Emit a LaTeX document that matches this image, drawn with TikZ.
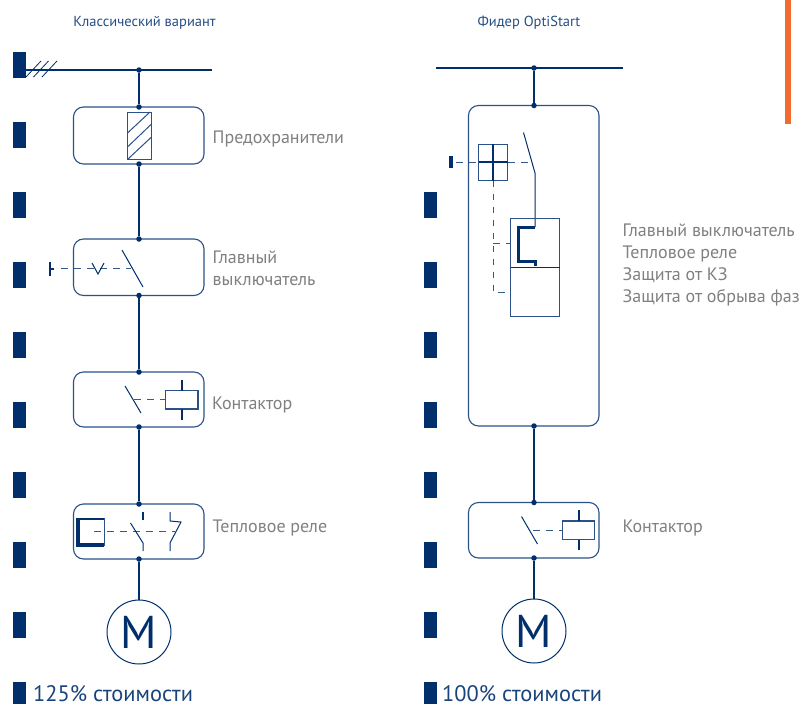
\documentclass[tikz,border=0pt]{standalone}
\usepackage{fontspec}
\setmainfont{PT Sans}
\definecolor{navy}{HTML}{002F6C}
\definecolor{boxblue}{HTML}{2A5288}
\definecolor{labelgray}{HTML}{808080}
\definecolor{barorange}{HTML}{F26A2E}

\begin{document}
\begin{tikzpicture}
[x=1pt,y=-1pt,
  marker/.style={shape=rectangle,fill=navy,inner sep=0pt,minimum width=13pt,minimum height=26pt},%
  blockdecorate/.style={shape=rectangle,draw=boxblue,line width=1.1pt,rounded corners=10pt,inner sep=0pt},%
  dotdecorate/.style={shape=circle,fill=navy,inner sep=0pt,minimum size=5.5pt},%
  motordecorate/.style={shape=circle,draw=navy,line width=1pt,inner sep=0pt,minimum size=64pt,text=navy,font=\fontsize{46}{46}\selectfont},%
  wire/.style={draw=navy,line width=1.8pt},%
  thin wire/.style={draw=navy,line width=1pt},%
  thick wire/.style={draw=navy,line width=3pt},%
  frame/.style={draw=boxblue,line width=1pt},%
  link/.style={draw=navy!80!white,line width=1pt,dash pattern=on 6.5pt off 6.5pt},%
  label/.style={anchor=base west,inner sep=0pt,text=labelgray,font=\fontsize{18}{18}\selectfont},%
  heading/.style={anchor=base,inner sep=0pt,text=navy!85!white,font=\fontsize{14.5}{14.5}\selectfont},%
  price/.style={anchor=base west,inner sep=0pt,text=navy!90!white,font=\fontsize{22.4}{22.4}\selectfont}]
\useasboundingbox (0,0) rectangle (801,704);
%% side markers and orange bar
\foreach \y in {65,135,205,275,345,415,485,555,625,695}
{
  \node[marker] (markerA\y) at (19.5,\y) {};
}
\foreach \y in {205,275,345,415,485,555,625,695}
{
  \node[marker] (markerB\y) at (430.5,\y) {};
}
\fill[barorange] (785,0) rectangle (791,124);
%% headings
\node[heading] (headA) at (144.5,27) {Классический вариант};
\node[heading] (headB) at (529,27) {Фидер OptiStart};
\node[price] (priceA) at (33,701) {125\% стоимости};
\node[price] (priceB) at (442,701) {100\% стоимости};
%% blocks
\foreach \nodename/\x/\y/\w/\h in {fuse/138.75/135.5/130.5/57,
  breaker/138.75/267.25/130.5/56.5, contactA/138.75/399.5/130.5/55,
  relay/138.75/531.5/130.5/55, feeder/533.75/265.75/130.5/320.5,
  contactB/533.75/530.25/130.5/55.5}
{
  \node[blockdecorate,minimum width=\w pt,minimum height=\h pt] (\nodename) at (\x,\y) {};
}
\node[motordecorate] (motorA) at (139,632) {M};
\node[motordecorate] (motorB) at (534,631) {M};
%% buses
\coordinate (busAl) at (26,70);
\coordinate (busAr) at (212,70);
\coordinate (busBl) at (436,68);
\coordinate (busBr) at (623,68);
\draw[wire] (busAl) -- (busAr);
\draw[wire] (busBl) -- (busBr);
\foreach \nodename/\x/\y in {dotbusA/139/70, dotfuseT/139/107, dotfuseB/139/164,
  dotbreakT/139/239, dotbreakB/139/295.5, dotcontT/139/372, dotcontB/139/427,
  dotrelayT/139/504, dotrelayB/139/559, dotbusB/534/68, dotfeedT/534/105.5,
  dotfeedB/534/426, dotcbT/534/502.5, dotcbB/534/558}
{
  \node[dotdecorate] (\nodename) at (\x,\y) {};
}
%% connections
\foreach \startnode/\endnode in {dotbusA/dotfuseT, dotfuseB/dotbreakT,
  dotbreakB/dotcontT, dotcontB/dotrelayT, dotbusB/dotfeedT, dotfeedB/dotcbT}
{
  \draw[wire] (\startnode) -- (\endnode);
}
\draw[wire] (dotrelayB) -- (motorA.north);
\draw[wire] (dotcbB) -- (motorB.north);
%% bus ticks
\foreach \x in {26,33.5,42}
{
  \draw[navy,line width=0.8pt] (\x,77) -- ++(15,-16);
}
%% fuse
\draw[frame,fill=white] (127.5,112) rectangle (151.5,159);
\draw[frame] (127.5,133) -- (150,112) (127.5,147) -- (151.5,124) (128,159) -- (151.5,137);
%% main switch
\draw[navy,line width=2.4pt] (50,262) -- (50,276);
\draw[navy,line width=2pt] (50,268.5) -- (54,268.5);
\draw[link] (61,268.5) -- (131,268.5);
\draw[thin wire,fill=none] (92,263) -- (98,274) -- (104,263);
\draw[thin wire] (122,250) -- (143,287);
%% contactor, left
\draw[thin wire] (125,386) -- (141,413);
\draw[link] (134,399) -- (165,399);
\draw[frame,line width=1.2pt] (165.5,390.5) rectangle (198,409);
\draw[navy,line width=1.6pt] (182,380) -- (182,390.5) (182,409) -- (182,420);
%% thermal relay
\draw[navy,line width=1.8pt] (104,519) -- (78,519);
\draw[navy,line width=3.2pt] (78,518) -- (78,545) -- (104,545);
\draw[frame] (104,518) -- (104,546);
\draw[link] (94,531.5) -- (175,531.5);
\draw[navy,line width=1.8pt] (143,512) -- (143,520);
\draw[thin wire] (130.5,523) -- (143,543) -- (143,551);
\draw[thin wire] (170,512) -- (170,521) -- (181,522) -- (170,543) -- (170,551);
%% feeder switch
\draw[navy,line width=4pt] (451,156) -- (451,168);
\draw[link] (456,162) -- (532,162);
\draw[frame,fill=none] (478.5,144) rectangle (507.5,180.5);
\draw[navy,line width=1.8pt] (493,144) -- (493,180.5) (478.5,162) -- (507.5,162);
\draw[thin wire] (523.5,132.5) -- (535,173) -- (535,227);
\draw[frame] (510.75,218.75) rectangle (559.75,316.75);
\draw[navy,line width=1.6pt] (510.75,267.5) -- (559.75,267.5);
\draw[thick wire] (535,227) -- (518.5,227) -- (518.5,261) -- (535,261) -- (535,266);
\draw[link] (493,180.5) -- (493,292.5) -- (510.5,292.5);
\draw[link] (493,243.5) -- (510.5,243.5);
%% contactor, right
\draw[thin wire] (521.5,516.5) -- (537.5,544);
\draw[link] (533,530) -- (562.5,530);
\draw[frame,line width=1.2pt] (562.5,521) rectangle (594.5,539.5);
\draw[navy,line width=1.6pt] (579,510) -- (579,521) (579,539.5) -- (579,550);
%% labels
\foreach \x/\y/\text in {212.5/143/Предохранители, 212.5/263/Главный, 212.5/285/выключатель,
  212/409/Контактор, 212.5/532/Тепловое реле, 622.5/236/Главный выключатель,
  622.5/258/Тепловое реле, 622.5/280/Защита от КЗ, 622.5/302/Защита от обрыва фаз,
  622.5/532/Контактор}
{
  \node[label] at (\x,\y) {\text};
}
\end{tikzpicture}
\end{document}
